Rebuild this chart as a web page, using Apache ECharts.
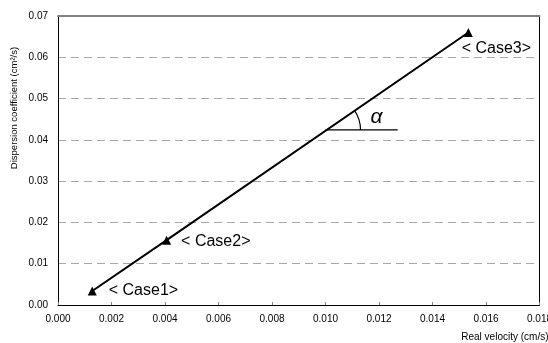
<!DOCTYPE html>
<html><head><meta charset="utf-8">
<script src="https://cdn.jsdelivr.net/npm/echarts@6/dist/echarts.min.js"></script>
<style>html,body{margin:0;padding:0;background:#fff}#c{width:548px;height:343px}</style>
</head><body><div id="c"></div>
<script>
var caseNames = ['< Case1>', '< Case2>', '< Case3>'];
var velocity = [0.00128, 0.00406, 0.01534];
var dispersion = [0.0034, 0.0157, 0.0660];
var alphaLineX = [0.0100, 0.0127];
var alphaLineY = 0.0424;
var xTicks = {min: 0, max: 0.018, interval: 0.002};
var yTicks = {min: 0, max: 0.07, interval: 0.01};

var FONT = '"Liberation Sans", Arial, sans-serif';
var chart = echarts.init(document.getElementById('c'), null, {renderer: 'canvas'});

var pts = velocity.map(function (v, i) { return [v, dispersion[i]]; });
var labelCfg = [
  {position: 'right', distance: 12, offset: [0, 0]},
  {position: 'right', distance: 10, offset: [0, 1]},
  {position: 'bottom', distance: 4, offset: [28, 0]}
];

chart.setOption({
  animation: false,
  grid: {left: 58, right: 8.5, top: 16, bottom: 38, containLabel: false, outerBoundsMode: 'none'},
  xAxis: [{
    type: 'value', min: xTicks.min, max: xTicks.max, interval: xTicks.interval,
    axisLine: {lineStyle: {color: '#000', width: 1}},
    axisTick: {show: true, inside: true, length: 3, lineStyle: {color: '#888'}},
    axisLabel: {color: '#000', fontSize: 10, fontFamily: FONT, margin: 9, hideOverlap: false,
      formatter: function (v) { return v.toFixed(3); }},
    splitLine: {show: false},
    name: 'Real velocity (cm/s)', nameLocation: 'end', nameGap: 9,
    nameTextStyle: {color: '#000', fontSize: 10, fontFamily: FONT, align: 'right', verticalAlign: 'top', padding: [27, 0, 0, 0]}
  }, {
    type: 'value', position: 'top', min: xTicks.min, max: xTicks.max,
    axisLine: {show: true, onZero: false, lineStyle: {color: '#808080', width: 2}},
    axisTick: {show: false}, axisLabel: {show: false}, splitLine: {show: false}
  }],
  yAxis: [{
    type: 'value', min: yTicks.min, max: yTicks.max, interval: yTicks.interval,
    axisLine: {show: true, lineStyle: {color: '#000', width: 1}},
    axisTick: {show: false},
    axisLabel: {color: '#000', fontSize: 10, fontFamily: FONT, margin: 10,
      formatter: function (v) { return v.toFixed(2); }},
    splitLine: {show: true, lineStyle: {color: '#a8a8a8', type: [8, 5], width: 1}}
  }, {
    type: 'value', position: 'right', min: yTicks.min, max: yTicks.max,
    axisLine: {show: true, onZero: false, lineStyle: {color: '#000', width: 1}},
    axisTick: {show: false}, axisLabel: {show: false}, splitLine: {show: false}
  }],
  graphic: [{
    type: 'text', x: 14, y: 108, rotation: Math.PI / 2,
    style: {text: 'Dispersion coefficient (cm²/s)', fontSize: 9.5, fontFamily: FONT,
      fill: '#000', align: 'center', verticalAlign: 'middle'}
  }],
  series: [{
    type: 'line', data: pts.map(function (p, i) {
      return {value: p, label: {show: true, formatter: caseNames[i],
        position: labelCfg[i].position, distance: labelCfg[i].distance, offset: labelCfg[i].offset}};
    }),
    symbol: 'triangle', symbolSize: 9,
    itemStyle: {color: '#000'},
    lineStyle: {color: '#000', width: 2},
    label: {color: '#000', fontSize: 16, fontFamily: FONT}
  }, {
    type: 'line', data: alphaLineX.map(function (x) { return [x, alphaLineY]; }),
    symbol: 'none', lineStyle: {color: '#000', width: 1.2}
  }, {
    type: 'custom', data: [[alphaLineX[0], alphaLineY]],
    renderItem: function (params, api) {
      var c = api.coord([api.value(0), api.value(1)]);
      var a = api.coord(pts[0]), b = api.coord(pts[2]);
      var ang = Math.atan2(b[1] - a[1], b[0] - a[0]);
      return {type: 'group', children: [{
        type: 'arc', shape: {cx: c[0], cy: c[1], r: 35, startAngle: ang, endAngle: 0, clockwise: true},
        style: {stroke: '#000', fill: null, lineWidth: 1.2}
      }, {
        type: 'text', x: c[0] + 51, y: c[1] - 13,
        style: {text: 'α', fontSize: 21, fontStyle: 'italic', fontFamily: FONT, fill: '#000', align: 'center', verticalAlign: 'middle'}
      }]};
    }
  }]
});
</script></body></html>
